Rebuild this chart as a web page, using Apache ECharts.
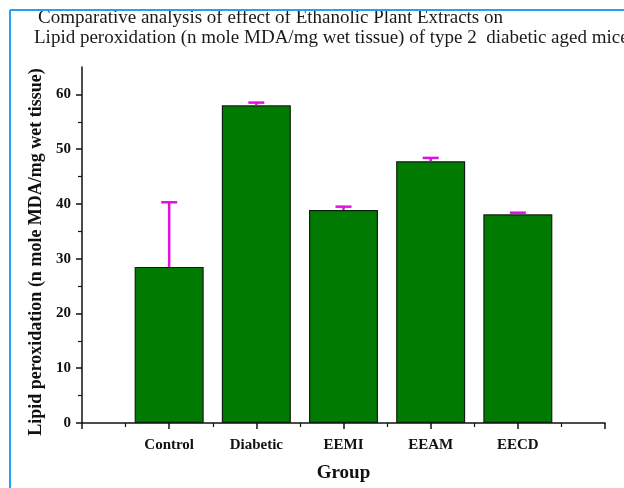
<!DOCTYPE html>
<html><head><meta charset="utf-8">
<script src="https://cdn.jsdelivr.net/npm/echarts@6/dist/echarts.min.js"></script>
<style>html,body{margin:0;padding:0;background:#fff}#c{width:624px;height:488px}</style>
</head><body><div id="c"></div>
<script>
var categories = ['Control', 'Diabetic', 'EEMI', 'EEAM', 'EECD'];
var means = [28.5, 58.0, 38.9, 47.8, 38.1];
var errors = [11.8, 0.5, 0.6, 0.6, 0.3];
var yTicks = [0, 10, 20, 30, 40, 50, 60];
var titleLine1 = 'Comparative analysis of effect of Ethanolic Plant Extracts on';
var titleLine2 = 'Lipid peroxidation (n mole MDA/mg wet tissue) of type 2  diabetic aged mice';

var chart = echarts.init(document.getElementById('c'));
var serif = '"Liberation Serif", "Times New Roman", serif';
var barData = categories.map(function (c, i) { return [i + 1, means[i]]; });
var errData = categories.map(function (c, i) { return [i + 1, means[i], means[i] + errors[i]]; });

chart.setOption({
  animation: false,
  backgroundColor: '#fff',
  title: [
    { text: titleLine1, left: 38, top: 8, padding: 0, textStyle: { fontFamily: serif, fontSize: 19, fontWeight: 'normal', color: '#1a1a1a', lineHeight: 20 } },
    { text: titleLine2, left: 34, top: 28, padding: 0, textStyle: { fontFamily: serif, fontSize: 19, fontWeight: 'normal', color: '#1a1a1a', lineHeight: 20 } }
  ],
  graphic: [
    { type: 'line', shape: { x1: 10, y1: 10, x2: 624, y2: 10 }, style: { stroke: '#1ea4f2', lineWidth: 2 }, z: 100 },
    { type: 'line', shape: { x1: 10, y1: 10, x2: 10, y2: 488 }, style: { stroke: '#1ea4f2', lineWidth: 2 }, z: 100 }
  ],
  grid: { left: 82, right: 19, top: 67, bottom: 65 },
  xAxis: {
    type: 'value', min: 0, max: 6, interval: 1,
    name: 'Group', nameLocation: 'middle', nameGap: 41,
    nameTextStyle: { fontFamily: serif, fontSize: 19, fontWeight: 'bold', color: '#111' },
    axisLine: { show: true, lineStyle: { color: '#111', width: 1.5 } },
    axisTick: { show: true, length: 6, lineStyle: { color: '#111', width: 1.5 } },
    minorTick: { show: true, splitNumber: 2, length: 4, lineStyle: { color: '#111', width: 1.2 } },
    splitLine: { show: false },
    axisLabel: {
      fontFamily: serif, fontSize: 15, fontWeight: 'bold', color: '#111', margin: 15,
      formatter: function (v) { return (v >= 1 && v <= categories.length) ? categories[v - 1] : ''; }
    }
  },
  yAxis: {
    type: 'value', min: 0, max: 65, interval: 10,
    name: 'Lipid peroxidation (n mole MDA/mg wet tissue)', nameLocation: 'middle', nameGap: 34,
    nameTextStyle: { fontFamily: serif, fontSize: 18, fontWeight: 'bold', color: '#111', padding: [0, 14, 0, 0] },
    axisLine: { show: true, lineStyle: { color: '#111', width: 1.5 } },
    axisTick: { show: true, length: 6, customValues: yTicks, lineStyle: { color: '#111', width: 1.5 } },
    minorTick: { show: true, splitNumber: 2, length: 4, lineStyle: { color: '#111', width: 1.2 } },
    splitLine: { show: false },
    axisLabel: { customValues: yTicks, fontFamily: serif, fontSize: 15, fontWeight: 'bold', color: '#111', margin: 11 }
  },
  series: [
    {
      type: 'bar', data: barData, barWidth: 69,
      itemStyle: { color: '#007a00', borderColor: '#102010', borderWidth: 1.2 }
    },
    {
      type: 'custom', data: errData, z: 10,
      renderItem: function (params, api) {
        var x = api.value(0);
        var base = api.coord([x, api.value(1)]);
        var top = api.coord([x, api.value(2)]);
        var hw = 8;
        return {
          type: 'group',
          children: [
            { type: 'line', shape: { x1: base[0], y1: base[1], x2: top[0], y2: top[1] }, style: { stroke: '#e010e0', lineWidth: 2.5 } },
            { type: 'line', shape: { x1: top[0] - hw, y1: top[1], x2: top[0] + hw, y2: top[1] }, style: { stroke: '#e010e0', lineWidth: 2.5 } }
          ]
        };
      }
    }
  ]
});
</script></body></html>
